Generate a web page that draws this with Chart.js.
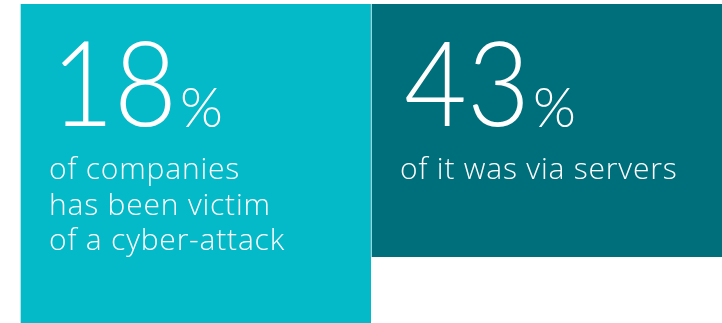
<!DOCTYPE html>
<html>
<head>
<meta charset="utf-8">
<script src="https://cdn.jsdelivr.net/npm/chart.js@4.4.0/dist/chart.umd.min.js"></script>
<style>
  html, body { margin: 0; padding: 0; background: #fff; }
  #wrap { width: 722px; height: 323px; }
</style>
</head>
<body>
<div id="wrap"><canvas id="statChart" width="722" height="323"></canvas></div>
<script>
// data
const categories = ['Companies attacked', 'Attacks via servers'];
const percentValues = [18, 43];
const captions = [
    ['of companies', 'has been victim', 'of a cyber-attack'],
    ['of it was via servers']
];
// panels are floating bars; bottom of each panel on a 0..100 scale
const panelBottom = [0, 20.7];
const panelTop = [100, 100];
const panelColors = ['#05bac8', '#006f7c'];

// texte dins dels panells
const textPlugin = {
    id: 'panelText',
    afterDatasetsDraw(chart){
        const ctx = chart.ctx;
        const meta = chart.getDatasetMeta(0);
        ctx.save();
        ctx.fillStyle = '#ffffff';
        ctx.textBaseline = 'alphabetic';
        ctx.textAlign = 'left';
        meta.data.forEach((bar, i) => {
            const left = bar.x - bar.width / 2;
            const top = bar.y;
            const numX = left + (i === 0 ? 31 : 33);
            const numY = top + 122;
            const sx = 0.92;
            ctx.font = '300 118px Lato, "Open Sans", sans-serif';
            ctx.letterSpacing = '0px';
            const numTxt = String(percentValues[i]);
            const w = ctx.measureText(numTxt).width * sx;
            ctx.save();
            ctx.translate(numX, numY);
            ctx.scale(sx, 1);
            ctx.fillText(numTxt, 0, 0);
            ctx.restore();
            ctx.font = '300 55px Lato, "Open Sans", sans-serif';
            ctx.fillText('%', numX + w + 3, numY + 1);
            ctx.font = '300 30px "Open Sans", Lato, sans-serif';
            ctx.letterSpacing = '0.8px';
            captions[i].forEach((line, j) => {
                ctx.fillText(line, left + 29, top + 175 + j * 35.5);
            });
        });
        ctx.restore();
    }
};

const chart = new Chart(document.getElementById('statChart'), {
    type: 'bar',
    data: {
        labels: categories,
        datasets: [{
            data: categories.map((c, i) => [panelBottom[i], panelTop[i]]),
            backgroundColor: panelColors,
            borderColor: '#ffffff',
            borderWidth: { left: 1, right: 0, top: 0, bottom: 0 },
            borderSkipped: false,
            categoryPercentage: 1,
            barPercentage: 1
        }]
    },
    options: {
        responsive: false,
        animation: false,
        layout: { padding: { left: 20, top: 4, right: 0, bottom: 0 } },
        plugins: { legend: { display: false }, tooltip: { enabled: false } },
        scales: {
            x: { display: false },
            y: { display: false, min: 0, max: 100 }
        }
    },
    plugins: [textPlugin]
});
</script>
</body>
</html>
